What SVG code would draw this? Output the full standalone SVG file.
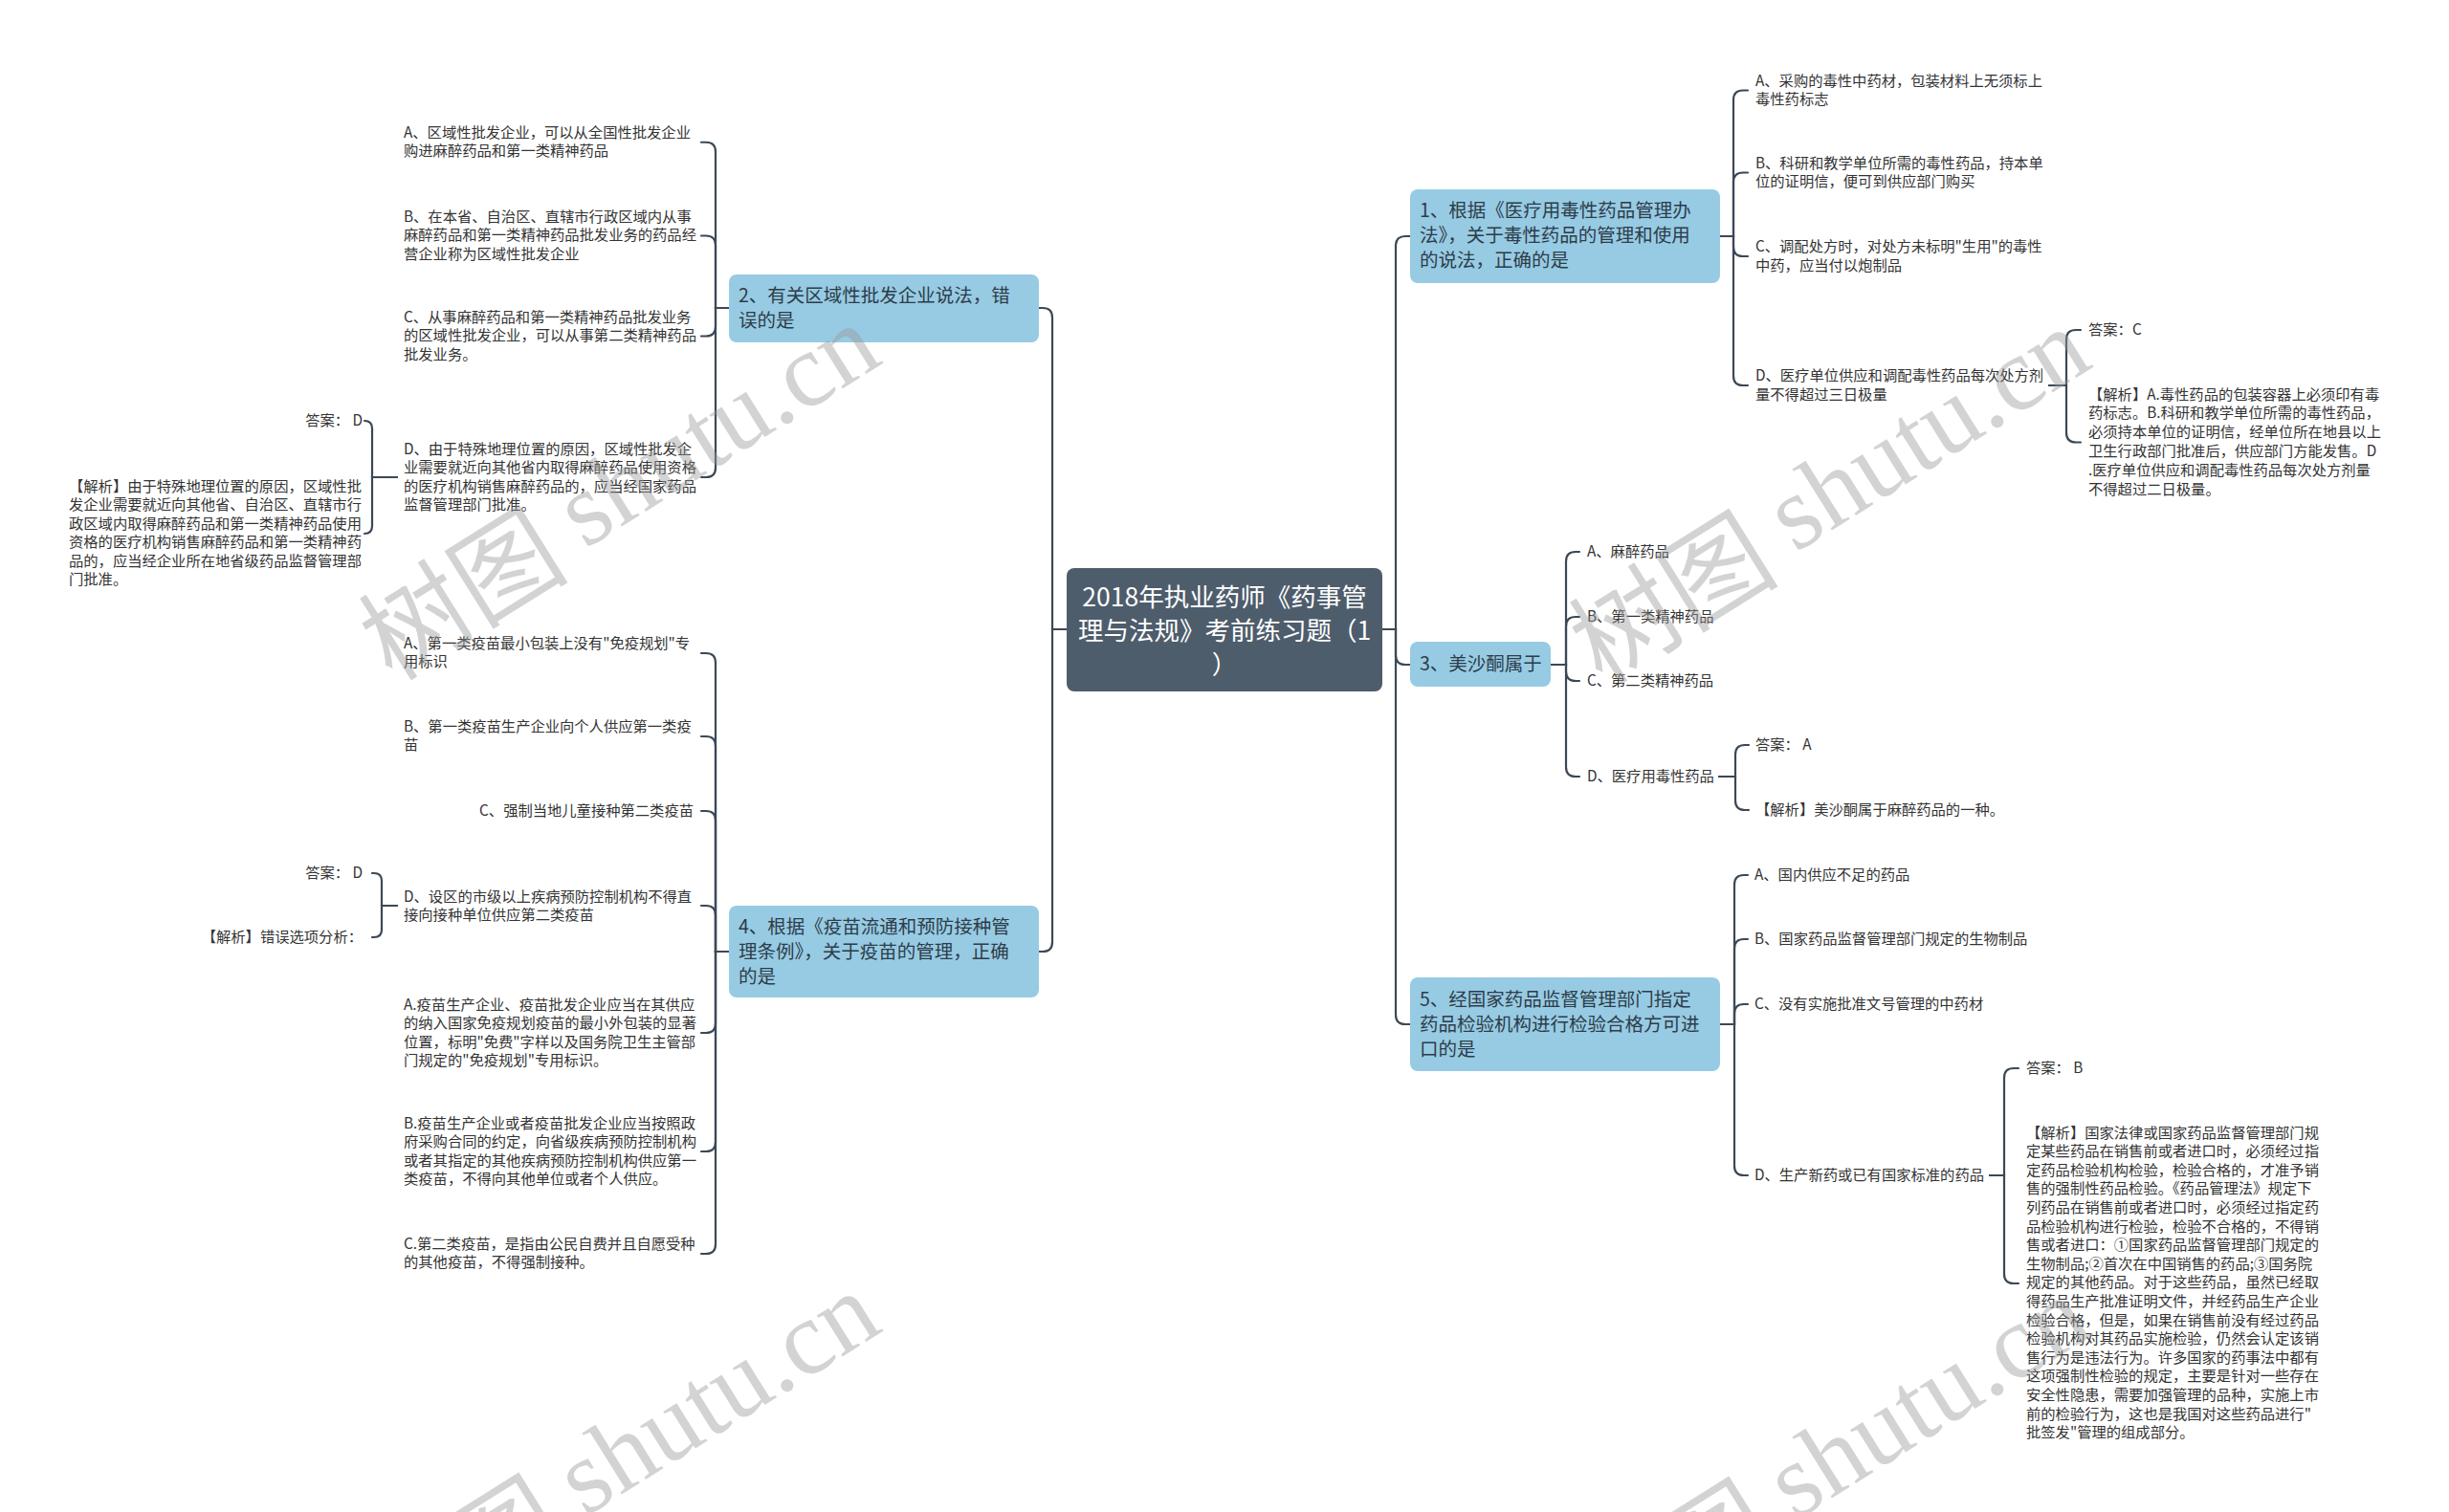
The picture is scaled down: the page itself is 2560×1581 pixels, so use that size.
<svg xmlns="http://www.w3.org/2000/svg" width="2560" height="1581" viewBox="0 0 2560 1581">
<style>
text{font-family:"Noto Sans CJK SC","Liberation Sans",sans-serif;dominant-baseline:central}
.leaf{font-size:15.3px;fill:#333333;transform:translateY(-2.5px)}
.l1{font-size:19.5px;fill:#2d3c4a;transform:translateY(-2.5px)}
.root{font-size:26.5px;fill:#ffffff;transform:translateY(-2.5px)}
.l1box{fill:#97cbe3}
.rootbox{fill:#4e5d6c}
.conn path{fill:none;stroke:#3b4856;stroke-width:2.2;stroke-linecap:round}
.wm{font-size:110px;fill:#999999;opacity:0.42}
</style>
<rect width="2560" height="1581" fill="#ffffff"/>
<g class="conn" id="connectors">
<path d="M1445,658 H1459 V257 Q1459,247 1469,247 H1474"/>
<path d="M1445,658 H1459 V685 Q1459,695 1469,695 H1474"/>
<path d="M1445,658 H1459 V1061 Q1459,1071 1469,1071 H1474"/>
<path d="M1115,658 H1100 V332 Q1100,322 1090,322 H1086"/>
<path d="M1115,658 H1100 V985 Q1100,995 1090,995 H1086"/>
<path d="M1798,247 H1812 V104.5 Q1812,94.5 1822,94.5 H1827"/>
<path d="M1798,247 H1812 V190.5 Q1812,180.5 1822,180.5 H1827"/>
<path d="M1798,247 H1812 V258 Q1812,268 1822,268 H1827"/>
<path d="M1798,247 H1812 V393 Q1812,403 1822,403 H1827"/>
<path d="M2142,403 H2160 V355 Q2160,345 2170,345 H2175"/>
<path d="M2142,403 H2160 V452.5 Q2160,462.5 2170,462.5 H2175"/>
<path d="M1621,695 H1637 V587 Q1637,577 1647,577 H1651"/>
<path d="M1621,695 H1637 V655 Q1637,645 1647,645 H1651"/>
<path d="M1621,695 H1637 V702 Q1637,712 1647,712 H1651"/>
<path d="M1621,695 H1637 V802 Q1637,812 1647,812 H1651"/>
<path d="M1797,812 H1814 V789 Q1814,779 1824,779 H1828"/>
<path d="M1797,812 H1814 V837 Q1814,847 1824,847 H1828"/>
<path d="M1798,1071 H1813 V925 Q1813,915 1823,915 H1827"/>
<path d="M1798,1071 H1813 V992 Q1813,982 1823,982 H1827"/>
<path d="M1798,1071 H1813 V1060 Q1813,1050 1823,1050 H1827"/>
<path d="M1798,1071 H1813 V1219 Q1813,1229 1823,1229 H1827"/>
<path d="M2080,1229 H2095 V1127 Q2095,1117 2105,1117 H2110"/>
<path d="M2080,1229 H2095 V1332 Q2095,1342 2105,1342 H2110"/>
<path d="M762,322 H748 V158.75 Q748,148.75 738,148.75 H733"/>
<path d="M762,322 H748 V256.5 Q748,246.5 738,246.5 H733"/>
<path d="M762,322 H748 V341.5 Q748,351.5 738,351.5 H733"/>
<path d="M762,322 H748 V489 Q748,499 738,499 H733"/>
<path d="M415,499 H389 V448 Q389,440 381,440"/>
<path d="M415,499 H389 V550 Q389,558 381,558"/>
<path d="M762,995 H748 V693 Q748,683 738,683 H733"/>
<path d="M762,995 H748 V780 Q748,770 738,770 H733"/>
<path d="M762,995 H748 V858 Q748,848 738,848 H733"/>
<path d="M762,995 H748 V957 Q748,947 738,947 H733"/>
<path d="M762,995 H748 V1070 Q748,1080 738,1080 H733"/>
<path d="M762,995 H748 V1194 Q748,1204 738,1204 H733"/>
<path d="M762,995 H748 V1301 Q748,1311 738,1311 H733"/>
<path d="M415,947 H399 V921 Q399,913 391,913 H389"/>
<path d="M415,947 H399 V972 Q399,980 391,980 H389"/>
</g>
<g id="root">
<rect class="rootbox" x="1115" y="594" width="330" height="129" rx="8"/>
<text class="root" x="1280" y="625" text-anchor="middle">2018年执业药师《药事管</text>
<text class="root" x="1280" y="660" text-anchor="middle">理与法规》考前练习题（1</text>
<text class="root" x="1280" y="695" text-anchor="middle">）</text>
</g>
<g id="n1">
<rect class="l1box" x="1474" y="198" width="324" height="98" rx="8"/>
<text class="l1" x="1484" y="221">1、根据《医疗用毒性药品管理办</text>
<text class="l1" x="1484" y="247">法》，关于毒性药品的管理和使用</text>
<text class="l1" x="1484" y="273">的说法，正确的是</text>
</g>
<g id="n1a"><text class="leaf" x="1835" y="85">A、采购的毒性中药材，包装材料上无须标上</text><text class="leaf" x="1835" y="104.5">毒性药标志</text></g>
<g id="n1b"><text class="leaf" x="1835" y="171">B、科研和教学单位所需的毒性药品，持本单</text><text class="leaf" x="1835" y="190.5">位的证明信，便可到供应部门购买</text></g>
<g id="n1c"><text class="leaf" x="1835" y="258.5">C、调配处方时，对处方未标明"生用"的毒性</text><text class="leaf" x="1835" y="278">中药，应当付以炮制品</text></g>
<g id="n1d"><text class="leaf" x="1835" y="393.5">D、医疗单位供应和调配毒性药品每次处方剂</text><text class="leaf" x="1835" y="413">量不得超过三日极量</text></g>
<g id="n1d-ans"><text class="leaf" x="2183" y="345">答案：C</text></g>
<g id="n1d-exp">
<text class="leaf" x="2183" y="413">【解析】A.毒性药品的包装容器上必须印有毒</text>
<text class="leaf" x="2183" y="432.8">药标志。B.科研和教学单位所需的毒性药品，</text>
<text class="leaf" x="2183" y="452.6">必须持本单位的证明信，经单位所在地县以上</text>
<text class="leaf" x="2183" y="472.4">卫生行政部门批准后，供应部门方能发售。D</text>
<text class="leaf" x="2183" y="492.2">.医疗单位供应和调配毒性药品每次处方剂量</text>
<text class="leaf" x="2183" y="512">不得超过二日极量。</text>
</g>
<g id="n3">
<rect class="l1box" x="1474" y="671" width="147" height="47" rx="8"/>
<text class="l1" x="1484" y="695">3、美沙酮属于</text>
</g>
<g id="n3a"><text class="leaf" x="1659" y="577">A、麻醉药品</text></g>
<g id="n3b"><text class="leaf" x="1659" y="645">B、第一类精神药品</text></g>
<g id="n3c"><text class="leaf" x="1659" y="712">C、第二类精神药品</text></g>
<g id="n3d"><text class="leaf" x="1659" y="812">D、医疗用毒性药品</text></g>
<g id="n3d-ans"><text class="leaf" x="1835" y="779">答案： A</text></g>
<g id="n3d-exp"><text class="leaf" x="1835" y="847">【解析】美沙酮属于麻醉药品的一种。</text></g>
<g id="n5">
<rect class="l1box" x="1474" y="1022" width="324" height="98" rx="8"/>
<text class="l1" x="1484" y="1046">5、经国家药品监督管理部门指定</text>
<text class="l1" x="1484" y="1072">药品检验机构进行检验合格方可进</text>
<text class="l1" x="1484" y="1098">口的是</text>
</g>
<g id="n5a"><text class="leaf" x="1834" y="915">A、国内供应不足的药品</text></g>
<g id="n5b"><text class="leaf" x="1834" y="982">B、国家药品监督管理部门规定的生物制品</text></g>
<g id="n5c"><text class="leaf" x="1834" y="1050">C、没有实施批准文号管理的中药材</text></g>
<g id="n5d"><text class="leaf" x="1834" y="1229">D、生产新药或已有国家标准的药品</text></g>
<g id="n5d-ans"><text class="leaf" x="2118" y="1117">答案： B</text></g>
<g id="n5d-exp">
<text class="leaf" x="2118" y="1185">【解析】国家法律或国家药品监督管理部门规</text>
<text class="leaf" x="2118" y="1204.6">定某些药品在销售前或者进口时，必须经过指</text>
<text class="leaf" x="2118" y="1224.2">定药品检验机构检验，检验合格的，才准予销</text>
<text class="leaf" x="2118" y="1243.8">售的强制性药品检验。《药品管理法》规定下</text>
<text class="leaf" x="2118" y="1263.4">列药品在销售前或者进口时，必须经过指定药</text>
<text class="leaf" x="2118" y="1283">品检验机构进行检验，检验不合格的，不得销</text>
<text class="leaf" x="2118" y="1302.6">售或者进口：①国家药品监督管理部门规定的</text>
<text class="leaf" x="2118" y="1322.2">生物制品;②首次在中国销售的药品;③国务院</text>
<text class="leaf" x="2118" y="1341.8">规定的其他药品。对于这些药品，虽然已经取</text>
<text class="leaf" x="2118" y="1361.4">得药品生产批准证明文件，并经药品生产企业</text>
<text class="leaf" x="2118" y="1381">检验合格，但是，如果在销售前没有经过药品</text>
<text class="leaf" x="2118" y="1400.6">检验机构对其药品实施检验，仍然会认定该销</text>
<text class="leaf" x="2118" y="1420.2">售行为是违法行为。许多国家的药事法中都有</text>
<text class="leaf" x="2118" y="1439.8">这项强制性检验的规定，主要是针对一些存在</text>
<text class="leaf" x="2118" y="1459.4">安全性隐患，需要加强管理的品种，实施上市</text>
<text class="leaf" x="2118" y="1479">前的检验行为，这也是我国对这些药品进行"</text>
<text class="leaf" x="2118" y="1498.6">批签发"管理的组成部分。</text>
</g>
<g id="n2">
<rect class="l1box" x="762" y="287" width="324" height="71" rx="8"/>
<text class="l1" x="772" y="310">2、有关区域性批发企业说法，错</text>
<text class="l1" x="772" y="336">误的是</text>
</g>
<g id="n2a"><text class="leaf" x="422" y="139">A、区域性批发企业，可以从全国性批发企业</text><text class="leaf" x="422" y="158.5">购进麻醉药品和第一类精神药品</text></g>
<g id="n2b"><text class="leaf" x="422" y="227">B、在本省、自治区、直辖市行政区域内从事</text><text class="leaf" x="422" y="246.5">麻醉药品和第一类精神药品批发业务的药品经</text><text class="leaf" x="422" y="266">营企业称为区域性批发企业</text></g>
<g id="n2c"><text class="leaf" x="422" y="332">C、从事麻醉药品和第一类精神药品批发业务</text><text class="leaf" x="422" y="351.5">的区域性批发企业，可以从事第二类精神药品</text><text class="leaf" x="422" y="371">批发业务。</text></g>
<g id="n2d"><text class="leaf" x="422" y="470">D、由于特殊地理位置的原因，区域性批发企</text><text class="leaf" x="422" y="489.5">业需要就近向其他省内取得麻醉药品使用资格</text><text class="leaf" x="422" y="509">的医疗机构销售麻醉药品的，应当经国家药品</text><text class="leaf" x="422" y="528.5">监督管理部门批准。</text></g>
<g id="n2d-ans"><text class="leaf" x="379" y="440" text-anchor="end">答案： D</text></g>
<g id="n2d-exp">
<text class="leaf" x="72" y="509.25">【解析】由于特殊地理位置的原因，区域性批</text>
<text class="leaf" x="72" y="528.75">发企业需要就近向其他省、自治区、直辖市行</text>
<text class="leaf" x="72" y="548.25">政区域内取得麻醉药品和第一类精神药品使用</text>
<text class="leaf" x="72" y="567.75">资格的医疗机构销售麻醉药品和第一类精神药</text>
<text class="leaf" x="72" y="587.25">品的，应当经企业所在地省级药品监督管理部</text>
<text class="leaf" x="72" y="606.75">门批准。</text>
</g>
<g id="n4">
<rect class="l1box" x="762" y="947" width="324" height="96" rx="8"/>
<text class="l1" x="772" y="970">4、根据《疫苗流通和预防接种管</text>
<text class="l1" x="772" y="996">理条例》，关于疫苗的管理，正确</text>
<text class="l1" x="772" y="1022">的是</text>
</g>
<g id="n4a"><text class="leaf" x="422" y="673">A、第一类疫苗最小包装上没有"免疫规划"专</text><text class="leaf" x="422" y="692.5">用标识</text></g>
<g id="n4b"><text class="leaf" x="422" y="760">B、第一类疫苗生产企业向个人供应第一类疫</text><text class="leaf" x="422" y="779.5">苗</text></g>
<g id="n4c"><text class="leaf" x="725" y="848" text-anchor="end">C、强制当地儿童接种第二类疫苗</text></g>
<g id="n4d"><text class="leaf" x="422" y="938">D、设区的市级以上疾病预防控制机构不得直</text><text class="leaf" x="422" y="957.5">接向接种单位供应第二类疫苗</text></g>
<g id="n4d-ans"><text class="leaf" x="379" y="913" text-anchor="end">答案： D</text></g>
<g id="n4d-exp"><text class="leaf" x="379" y="980" text-anchor="end">【解析】错误选项分析：</text></g>
<g id="n4e"><text class="leaf" x="422" y="1051">A.疫苗生产企业、疫苗批发企业应当在其供应</text><text class="leaf" x="422" y="1070.5">的纳入国家免疫规划疫苗的最小外包装的显著</text><text class="leaf" x="422" y="1090">位置，标明"免费"字样以及国务院卫生主管部</text><text class="leaf" x="422" y="1109.5">门规定的"免疫规划"专用标识。</text></g>
<g id="n4f"><text class="leaf" x="422" y="1175">B.疫苗生产企业或者疫苗批发企业应当按照政</text><text class="leaf" x="422" y="1194.5">府采购合同的约定，向省级疾病预防控制机构</text><text class="leaf" x="422" y="1214">或者其指定的其他疾病预防控制机构供应第一</text><text class="leaf" x="422" y="1233.5">类疫苗，不得向其他单位或者个人供应。</text></g>
<g id="n4g"><text class="leaf" x="422" y="1301">C.第二类疫苗，是指由公民自费并且自愿受种</text><text class="leaf" x="422" y="1320.5">的其他疫苗，不得强制接种。</text></g>
<g id="watermarks">
<text class="wm" transform="translate(645,510) rotate(-32)" text-anchor="middle">树图 <tspan font-family="Liberation Serif">shutu.cn</tspan></text>
<text class="wm" transform="translate(1910,514) rotate(-32)" text-anchor="middle">树图 <tspan font-family="Liberation Serif">shutu.cn</tspan></text>
<text class="wm" transform="translate(645,1522) rotate(-32)" text-anchor="middle">树图 <tspan font-family="Liberation Serif">shutu.cn</tspan></text>
<text class="wm" transform="translate(1910,1526) rotate(-32)" text-anchor="middle">树图 <tspan font-family="Liberation Serif">shutu.cn</tspan></text>
</g>
</svg>
